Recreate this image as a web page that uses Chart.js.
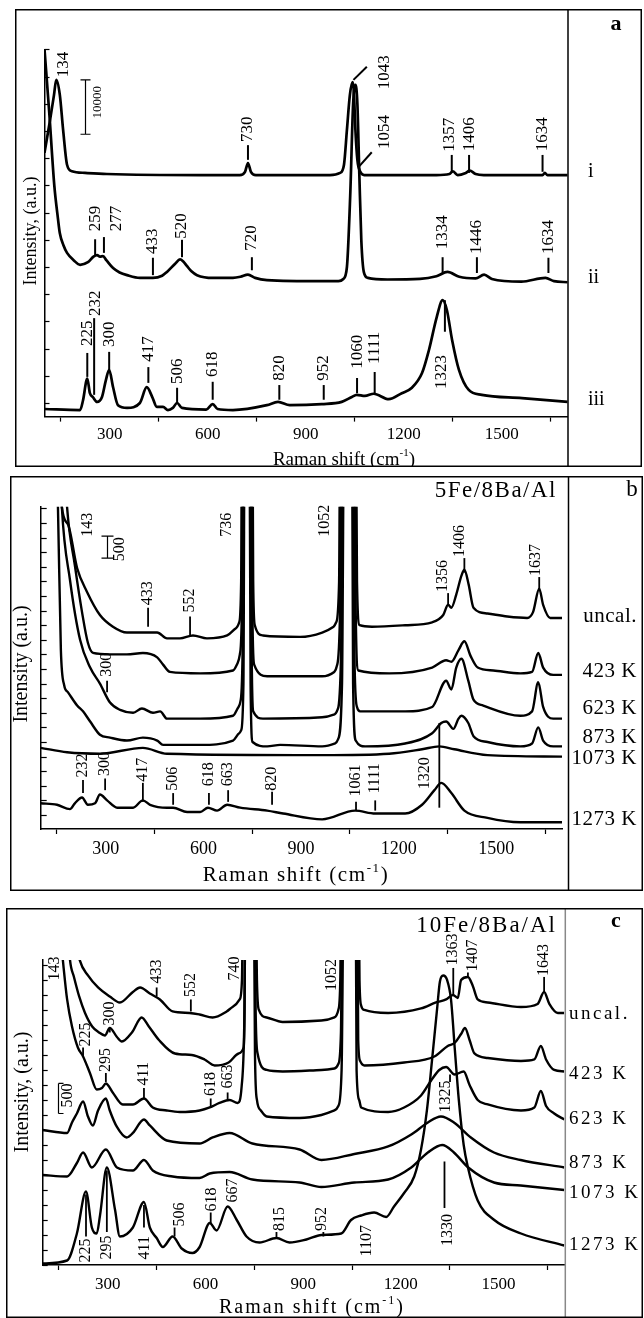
<!DOCTYPE html>
<html><head><meta charset="utf-8">
<script src="https://cdn.jsdelivr.net/npm/chart.js"></script>
<style>
html,body{margin:0;padding:0;background:#fff;}
body{width:644px;height:1318px;position:relative;overflow:hidden;}
.panel{position:absolute;}
canvas{display:block;}
</style></head><body>
<div class="panel" style="left:15px;top:9px;width:627px;height:458px"><canvas id="ca" width="627" height="458"></canvas></div>
<div class="panel" style="left:10px;top:476px;width:633px;height:415px"><canvas id="cb" width="633" height="415"></canvas></div>
<div class="panel" style="left:6px;top:908px;width:637px;height:410px"><canvas id="cc" width="637" height="410"></canvas></div>
<script>
// ---------- shared axis values ----------
const xMin = 100, xMax = 1702;
const xTickStep = 150, xLabelStep = 300;

// ---------- panel a : series [Raman shift, intensity (thousand counts)] ----------
const a_i = [[100,46.0],[117,52.0],[129,56.6],[136,59.4],[147,56.6],[157,50.2],[169,43.8],[184,42.6],[224,42.3],[291,42.1],[576,41.9],[698,41.9],[714,42.5],[723,44.1],[732,42.5],[747,41.9],[974,41.9],[1005,42.3],[1017,43.8],[1026,50.2],[1035,56.6],[1043,59.0],[1047,57.5],[1052,50.2],[1058,44.7],[1067,42.5],[1079,41.9],[1300,41.9],[1340,42.1],[1350,42.6],[1365,41.9],[1390,42.3],[1402,42.7],[1420,42.1],[1445,41.9],[1625,41.9],[1632,42.3],[1640,41.9],[1702,41.9]];
const a_ii = [[100,65.0],[115,53.0],[130,40.0],[141,34.0],[147,31.2],[158,29.0],[169,27.6],[190,26.2],[209,25.4],[233,25.9],[250,26.9],[261,27.2],[270,26.9],[279,27.0],[290,26.2],[310,24.8],[330,24.0],[353,23.5],[392,23.0],[432,23.0],[460,23.4],[475,24.1],[500,25.6],[515,26.4],[525,26.0],[536,25.2],[550,24.2],[567,23.5],[616,23.0],[677,23.0],[700,23.2],[723,23.6],[745,23.0],[781,22.6],[949,22.4],[1000,22.4],[1015,22.8],[1026,25.0],[1036,38.0],[1045,55.0],[1052,58.5],[1058,55.0],[1064,42.0],[1070,30.0],[1078,24.0],[1090,23.0],[1150,22.7],[1250,22.8],[1300,23.3],[1334,24.1],[1370,23.2],[1420,22.9],[1446,23.6],[1470,22.8],[1560,22.3],[1634,23.0],[1660,22.4],[1702,22.2]];
const a_iii = [[100,-1.1],[209,-1.3],[218,0.5],[231,4.5],[239,1.8],[248,1.1],[261,0.2],[276,1.1],[288,4.2],[298,6.1],[310,2.9],[325,-0.4],[353,-0.9],[392,0.0],[413,2.9],[430,1.1],[444,-0.7],[463,-0.7],[478,-1.3],[493,-0.9],[506,0.0],[521,-0.9],[595,-1.2],[615,-0.2],[630,-1.1],[677,-1.3],[781,-0.4],[815,0.2],[851,-0.4],[949,-0.2],[1010,0.2],[1041,1.1],[1056,1.5],[1081,1.3],[1108,1.7],[1154,0.7],[1194,1.8],[1225,2.8],[1256,5.5],[1277,9.7],[1301,15.8],[1319,18.9],[1332,17.1],[1348,11.6],[1369,6.1],[1399,2.4],[1439,1.5],[1562,0.9],[1702,0.2]];
const a_rowLabels = [['i',42.5],['ii',23.0],['iii',0.6]];
const a_peakMarks = [[723,44.7,723,47.4],[1046,59.4,1087,61.8],[1062,43.4,1102,46.1],[1347,42.3,1347,45.6],[1400,42.3,1400,45.6],[1625,42.5,1625,45.6],[255,27.2,255,30.1],[282,27.6,282,30.5],[432,23.5,432,26.7],[521,26.8,521,30.0],[735,24.4,735,26.8],[1319,23.9,1319,26.8],[1424,23.9,1424,26.8],[1643,23.9,1643,26.7],[231,4.8,231,9.2],[252,1.5,252,15.6],[298,6.1,298,9.4],[418,3.7,418,6.6],[506,0,506,2.8],[615,0.6,615,3.9],[819,0.6,819,3.3],[955,0.6,955,3.3],[1057,1.8,1057,4.6],[1111,1.8,1111,5.7],[1326,13.1,1326,18.9]];
const a_peakTexts = [[157,59.7,'134'],[723,47.8,'730'],[1142,57.5,'1043'],[1142,46.5,'1054'],[1341,46.0,'1357'],[1400,46.1,'1406'],[1625,46.1,'1634'],[255,31.4,'259'],[322,31.4,'277'],[432,27.2,'433'],[521,30.0,'520'],[735,27.8,'720'],[1319,28.1,'1334'],[1424,27.2,'1446'],[1643,27.2,'1634'],[231,10.3,'225'],[255,15.8,'232'],[298,10.1,'300'],[418,7.4,'417'],[506,3.3,'506'],[615,4.6,'618'],[819,3.9,'820'],[955,3.9,'952'],[1057,6.1,'1060'],[1111,7.0,'1111'],[1317,2.4,'1323']];

// ---------- panel b ----------
const b_uncal = [[100,40],[150,30],[165,21.1],[184,19.9],[212,16.9],[242,15.3],[282,13.7],[322,12.9],[365,12.5],[414,12.5],[458,12.5],[488,12.1],[528,12.1],[568,12.3],[611,12.1],[673,12.3],[700,12.8],[710,13.2],[716,16],[719,30],[750,30],[753,16],[758,13.0],[783,12.3],[897,12.2],[965,12.5],[1000,12.9],[1008,13.2],[1017,16],[1021,30],[1068,30],[1072,16],[1080,13.0],[1118,12.9],[1220,13.0],[1303,13.2],[1337,13.7],[1352,14.4],[1362,14.2],[1377,15.1],[1393,16.4],[1402,16.8],[1415,15.8],[1430,14.2],[1473,13.8],[1534,13.6],[1595,13.5],[1613,13.9],[1632,15.5],[1644,14.4],[1666,13.5],[1702,13.5]];
const b_423 = [[100,40],[160,30],[181,21.1],[205,17.1],[227,13.9],[245,11.8],[261,11.1],[313,11.0],[365,11.0],[414,11.1],[458,10.8],[476,10.3],[497,9.8],[590,9.7],[691,9.9],[705,10.4],[712,11],[719,15],[722,30],[747,30],[750,15],[756,10.3],[796,9.5],[965,9.5],[1002,9.8],[1010,10.2],[1020,14],[1025,30],[1064,30],[1068,14],[1076,9.9],[1171,9.7],[1303,10.1],[1346,10.6],[1362,10.5],[1384,11.3],[1402,11.9],[1421,10.9],[1443,10.1],[1491,9.9],[1574,9.7],[1610,9.8],[1629,11.1],[1644,10.1],[1675,9.6],[1702,9.6]];
const b_623 = [[100,40],[150,30],[165,21.1],[190,16.1],[221,12.0],[252,10.1],[282,9.0],[313,7.7],[344,7.2],[384,7.0],[411,7.3],[445,7.0],[467,7.1],[488,6.6],[590,6.6],[691,6.8],[708,7.4],[714,7.8],[721,12],[725,30],[744,30],[748,12],[753,7.1],[783,6.6],[965,6.7],[1003,6.9],[1012,7.2],[1023,11],[1029,30],[1060,30],[1064,11],[1072,7.4],[1082,7.1],[1220,7.1],[1303,7.4],[1346,9.2],[1362,8.6],[1377,10.1],[1393,10.7],[1414,9.2],[1430,7.9],[1460,7.5],[1574,6.8],[1610,7.1],[1629,9.1],[1644,7.4],[1675,6.6],[1702,6.6]];
const b_873 = [[100,40],[140,30],[153,21.1],[162,11.3],[172,8.9],[184,8.4],[212,7.5],[230,7.1],[252,6.4],[282,5.5],[313,5.3],[365,5.1],[414,5.3],[458,5.1],[476,4.8],[590,4.8],[691,5.1],[710,5.6],[716,5.8],[723,9],[727,30],[741,30],[745,9],[751,5.0],[796,4.7],[836,4.8],[965,4.7],[1005,4.9],[1014,5.2],[1026,9],[1033,30],[1056,30],[1060,9],[1068,5.1],[1097,4.7],[1220,4.9],[1303,5.6],[1331,6.3],[1346,6.4],[1368,5.9],[1384,6.6],[1393,6.8],[1414,6.3],[1430,5.4],[1473,5.0],[1574,4.7],[1610,4.9],[1629,6.0],[1644,5.1],[1675,4.7],[1702,4.7]];
const b_1073 = [[100,4.6],[181,4.3],[282,4.2],[414,4.6],[488,4.2],[965,4.1],[1171,4.2],[1272,4.5],[1325,4.7],[1371,4.5],[1473,4.1],[1702,4.0]];
const b_1273 = [[100,0.8],[150,0.7],[190,0.4],[205,0.8],[227,1.2],[245,0.7],[267,0.8],[282,1.4],[304,1.0],[335,0.5],[384,0.5],[414,1.0],[436,0.7],[488,0.5],[507,0.5],[550,0.2],[590,0.2],[614,0.5],[642,0.3],[673,0.7],[713,0.5],[796,0.3],[845,0.1],[965,-0.3],[1066,0.3],[1128,0.1],[1220,0.1],[1272,0.7],[1310,1.7],[1331,2.2],[1362,1.5],[1402,0.3],[1473,-0.2],[1574,-0.5],[1702,-0.5]];
const b_rowLabels = [['uncal.',13.6],['423 K',9.8],['623 K',7.3],['873 K',5.3],['1073 K',3.9],['1273 K',-0.3]];
const b_peakMarks = [[430,12.9,430,14.2],[559,12.3,559,13.6],[304,8.4,304,9.2],[1352,14.4,1352,15.2],[1402,16.6,1402,17.6],[1632,15.4,1632,16.3],[230,1.5,230,2.4],[298,1.7,298,2.5],[414,0.9,414,2.2],[507,0.7,507,1.5],[617,0.7,617,1.5],[676,0.9,676,1.7],[811,0.7,811,1.6],[1069,0.3,1069,0.9],[1128,0.3,1128,1.0],[1325,0.5,1325,6.3]];
const b_peakTexts = [[245,19.0,'143'],[673,19.0,'736'],[974,19.0,'1052'],[430,14.3,'433'],[559,13.8,'552'],[304,9.4,'300'],[1337,15.2,'1356'],[1387,17.6,'1406'],[1620,16.3,'1637'],[230,2.5,'232'],[298,2.6,'300'],[414,2.2,'417'],[507,1.6,'506'],[617,1.9,'618'],[676,1.9,'663'],[811,1.6,'820'],[1069,1.2,'1061'],[1128,1.4,'1111'],[1281,1.7,'1320']];

// ---------- panel c ----------
const c_uncal = [[100,30],[190,22],[214,19.3],[239,18.3],[270,17.5],[306,16.9],[337,16.5],[377,17.2],[399,17.5],[429,17.1],[460,16.7],[499,15.9],[551,15.8],[582,15.7],[622,15.5],[665,15.9],[683,16.2],[705,16.7],[712,18],[716,25],[754,25],[758,18],[764,16.0],[788,15.5],[837,15.2],[956,15.3],[996,15.5],[1008,16.0],[1014,18],[1017,25],[1070,25],[1073,18],[1078,16.3],[1088,16.0],[1161,15.8],[1262,16.1],[1308,16.5],[1339,16.7],[1360,17.0],[1375,16.8],[1385,18.0],[1406,18.2],[1421,17.6],[1436,16.7],[1467,16.5],[1569,16.2],[1620,16.4],[1640,17.2],[1656,16.4],[1682,15.8],[1702,15.8]];
const c_423 = [[100,30],[175,22],[184,19.3],[196,18.2],[212,16.9],[230,15.8],[252,14.9],[273,14.5],[291,14.3],[306,14.8],[328,14.2],[343,13.9],[374,14.5],[404,15.5],[426,14.9],[457,14.0],[506,13.1],[558,13.0],[597,12.7],[628,12.3],[671,12.5],[702,13.1],[717,13.5],[720,16],[722,25],[751,25],[754,16],[760,13.1],[788,12.0],[837,11.9],[956,12.0],[996,12.1],[1008,12.4],[1016,14.5],[1021,25],[1066,25],[1069,14],[1075,12.6],[1088,12.3],[1210,12.5],[1303,12.9],[1344,13.6],[1365,13.8],[1385,14.4],[1397,14.8],[1411,14.0],[1426,13.1],[1467,12.8],[1569,12.6],[1610,12.7],[1630,13.6],[1646,12.7],[1671,12.0],[1702,11.9]];
const c_623 = [[100,30],[150,22],[162,19.3],[175,16.7],[190,14.9],[208,13.5],[224,12.9],[245,11.8],[266,10.7],[282,10.8],[294,11.1],[315,10.5],[346,9.7],[377,9.7],[411,10.1],[438,9.5],[481,9.3],[521,9.2],[582,9.3],[613,9.5],[643,9.8],[674,10.0],[699,9.8],[711,10.9],[719,15],[724,25],[748,25],[752,13],[758,10.0],[770,9.3],[788,8.9],[889,8.8],[956,9.0],[996,9.3],[1008,9.6],[1018,12],[1025,25],[1061,25],[1064,12],[1072,10.0],[1078,9.5],[1161,9.2],[1210,9.5],[1262,10.3],[1293,11.3],[1318,12.0],[1339,12.2],[1365,11.7],[1393,11.9],[1411,11.0],[1436,10.0],[1467,9.7],[1569,9.3],[1610,9.5],[1630,10.6],[1646,9.6],[1671,9.1],[1702,8.7]];
const c_873 = [[100,8.0],[175,7.8],[190,8.5],[205,9.1],[224,9.9],[239,8.9],[254,8.3],[270,9.3],[294,10.1],[306,9.3],[328,8.2],[358,7.5],[377,7.8],[411,8.7],[429,8.3],[481,7.3],[582,7.1],[622,7.5],[674,7.8],[744,7.1],[889,6.7],[956,6.0],[1057,6.4],[1161,6.9],[1232,7.7],[1283,8.5],[1323,8.9],[1363,8.5],[1415,7.5],[1486,6.5],[1568,6.0],[1702,5.5]];
const c_1073 = [[100,5.0],[175,4.9],[205,5.8],[224,6.5],[251,5.5],[294,6.7],[328,5.5],[377,5.3],[411,6.0],[438,5.3],[499,4.9],[582,4.8],[613,5.1],[674,5.2],[744,4.7],[889,4.5],[956,4.2],[1057,4.5],[1161,4.7],[1232,5.5],[1283,6.5],[1327,7.0],[1363,6.5],[1407,5.5],[1486,4.5],[1568,4.3],[1702,4.0]];
const c_1273 = [[100,-0.9],[175,-0.7],[205,1.1],[233,3.9],[251,1.5],[266,1.1],[276,2.3],[297,5.5],[322,2.7],[337,0.9],[377,1.5],[411,3.2],[429,1.5],[450,0.8],[469,0.2],[499,0.9],[527,0.1],[560,-0.2],[582,0.2],[613,1.8],[634,1.3],[668,2.9],[696,2.0],[726,0.9],[766,0.5],[818,0.8],[858,0.5],[910,0.7],[956,1.0],[1017,1.1],[1047,2.0],[1078,2.3],[1118,2.5],[1155,2.2],[1179,2.9],[1210,3.8],[1241,4.9],[1262,6.7],[1280,9.3],[1296,12.7],[1311,16.0],[1320,17.9],[1330,18.3],[1342,18.0],[1354,16.7],[1366,13.3],[1378,10.0],[1393,7.0],[1405,5.6],[1436,3.3],[1487,2.0],[1569,1.1],[1702,0.3]];
const c_rowLabels = [['uncal.',15.7],['423 K',11.7],['623 K',8.7],['873 K',5.8],['1073 K',3.8],['1273 K',0.3]];
const c_peakMarks = [[450,16.9,450,17.5],[555,15.9,555,16.7],[306,14.5,306,14.8],[224,12.9,224,13.5],[294,11.2,294,11.8],[411,10.1,411,10.8],[616,9.5,616,10.1],[668,10.0,668,10.5],[1361,17.0,1361,18.8],[1406,18.2,1406,18.5],[1640,17.2,1640,18.2],[1351,11.2,1351,11.7],[233,0.9,233,3.7],[297,1.2,297,5.3],[411,1.5,411,3.0],[505,0.9,505,1.5],[616,1.8,616,2.5],[818,0.8,818,1.2],[962,0.9,962,1.2],[1334,2.8,1334,5.9]];
const c_peakTexts = [[138,17.9,'143'],[450,17.7,'433'],[555,16.8,'552'],[690,17.9,'740'],[306,14.9,'300'],[233,13.5,'225'],[294,11.8,'295'],[411,10.9,'411'],[616,10.2,'618'],[668,10.7,'663'],[987,17.2,'1052'],[1361,18.9,'1363'],[1422,18.5,'1407'],[1640,18.2,'1643'],[1339,9.1,'1325'],[233,-0.9,'225'],[297,-0.7,'295'],[414,-0.7,'411'],[521,1.5,'506'],[619,2.5,'618'],[683,3.1,'667'],[828,1.2,'815'],[957,1.2,'952'],[1094,-0.5,'1107'],[1345,0.2,'1330']];

// ---------- drawing ----------
const FAM = '"Liberation Serif", "Times New Roman", serif';
function F(size, bold){ return (bold ? 'bold ' : '') + size + 'px ' + FAM; }

function vtext(c, txt, x, y, align){
  c.save(); c.translate(x, y); c.rotate(-Math.PI/2);
  c.textAlign = align; c.textBaseline = 'middle'; c.fillText(txt, 0, 0); c.restore();
}
function xTitle(c, cx, base, size, ls){
  c.save();
  c.letterSpacing = ls + 'px';
  c.font = F(size); const p1 = 'Raman shift (cm'; const w1 = c.measureText(p1).width;
  c.font = F(Math.round(size*0.6)); const w2 = c.measureText('-1').width;
  c.font = F(size); const w3 = c.measureText(')').width;
  let x = cx - (w1 + w2 + w3)/2;
  c.textAlign = 'left'; c.textBaseline = 'alphabetic';
  c.font = F(size); c.fillText(p1, x, base); x += w1;
  c.font = F(Math.round(size*0.6)); c.fillText('-1', x, base - size*0.45); x += w2;
  c.font = F(size); c.fillText(')', x, base);
  c.restore();
}

function buildPanel(id, P){
  const deco = {
    id: 'deco_' + id,
    afterDraw(chart){
      const c = chart.ctx, xs = chart.scales.x, ys = chart.scales.y, A = chart.chartArea;
      const X = v => xs.getPixelForValue(v), Y = v => ys.getPixelForValue(v);
      const W = chart.width, H = chart.height;
      c.save();
      c.strokeStyle = '#000'; c.fillStyle = '#000'; c.lineCap = 'butt';
      // inward y tick marks from the library's tick list
      c.lineWidth = 1.2;
      ys.ticks.forEach(t => { const y = Math.round(Y(t.value)) + 0.5; c.beginPath(); c.moveTo(A.left, y); c.lineTo(A.left + P.yTickLen, y); c.stroke(); });
      // peak markers
      c.lineWidth = P.markW;
      P.marks.forEach(m => { c.beginPath(); c.moveTo(X(m[0]), Y(m[1])); c.lineTo(X(m[2]), Y(m[3])); c.stroke(); });
      // peak labels
      c.font = F(P.peakSize);
      P.texts.forEach(t => vtext(c, t[2], X(t[0]), Y(t[1]) - 1, 'left'));
      // scale bar
      const sb = P.scaleBar;
      c.lineWidth = 1.2;
      const sx = Math.round(X(sb.x)) + 0.5, sy0 = Y(sb.y0), sy1 = Y(sb.y1);
      c.beginPath(); c.moveTo(sx, sy0); c.lineTo(sx, sy1);
      c.moveTo(sx - sb.capL, sy0); c.lineTo(sx + sb.capR, sy0);
      c.moveTo(sx - sb.capL, sy1); c.lineTo(sx + sb.capR, sy1); c.stroke();
      c.font = F(sb.size); vtext(c, sb.text, X(sb.tx), Y(sb.ty), 'center');
      // row labels in right column
      c.font = F(P.rowSize); c.letterSpacing = P.rowLS + 'px';
      c.textAlign = P.rowAlign; c.textBaseline = 'middle';
      P.rows.forEach(r => c.fillText(r[0], P.rowX, Y(r[1])));
      c.letterSpacing = '0px';
      // panel letter and sample title
      c.font = F(P.letter.size, P.letter.bold); c.textAlign = 'center'; c.textBaseline = 'middle';
      c.fillText(P.letter.t, P.letter.x, P.letter.y);
      if (P.title){
        c.font = F(P.title.size); c.letterSpacing = P.title.ls + 'px';
        c.textAlign = 'right'; c.textBaseline = 'alphabetic';
        c.fillText(P.title.t, P.title.x, P.title.y);
        c.letterSpacing = '0px';
      }
      // axis titles
      xTitle(c, P.xt.x, P.xt.y, P.xt.size, P.xt.ls);
      c.font = F(P.yt.size); vtext(c, P.yt.t, P.yt.x, P.yt.y, 'center');
      // divider and frame
      c.lineWidth = 1.5; c.strokeStyle = P.divColor;
      c.beginPath(); c.moveTo(P.divX, 0); c.lineTo(P.divX, H); c.stroke();
      c.strokeStyle = '#000';
      c.strokeRect(0.75, 0.75, W - 1.5, H - 1.5);
      c.restore();
    }
  };
  return new Chart(document.getElementById(id).getContext('2d'), {
    type: 'line',
    data: { datasets: P.series.map(s => ({
      data: s.map(p => ({x: p[0], y: p[1]})),
      borderColor: '#000', borderWidth: P.lineW, pointRadius: 0, fill: false,
      cubicInterpolationMode: 'monotone', borderJoinStyle: 'round'
    })) },
    options: {
      responsive: false, animation: false, devicePixelRatio: 1, events: [],
      layout: { padding: { left: P.pad[0], right: P.pad[1], top: P.pad[2], bottom: P.pad[3] } },
      plugins: { legend: { display: false }, tooltip: { enabled: false } },
      scales: {
        x: {
          type: 'linear', min: xMin, max: xMax,
          afterFit: s => { s.height = 40; },
          border: { display: true, color: '#000', width: 1.5 },
          grid: { drawOnChartArea: false, drawTicks: true, tickLength: 5, tickWidth: 1.2,
                  tickColor: ctx => (ctx.tick && ctx.tick.value % xLabelStep === 0) ? 'rgba(0,0,0,0)' : '#000' },
          ticks: { stepSize: xTickStep, includeBounds: false, autoSkip: false, maxRotation: 0, minRotation: 0,
                   padding: P.xTickPad, color: '#000', font: { family: FAM, size: P.xTickSize },
                   callback: v => (v % xLabelStep === 0) ? String(v) : '' }
        },
        y: {
          type: 'linear', min: P.yMin, max: P.yMax,
          afterFit: s => { s.width = 0; },
          border: { display: true, color: '#000', width: 1.5 },
          grid: { display: true, drawOnChartArea: false, drawTicks: false },
          ticks: { display: false, stepSize: P.yStep, includeBounds: false }
        }
      }
    },
    plugins: [deco]
  });
}

buildPanel('ca', {
  series: [a_i, a_ii, a_iii], lineW: 2.7, markW: 2,
  pad: [29.5, 74.3, 40.4, 10.4], yMin: -2.5, yMax: 65, yStep: 5, yTickLen: 5,
  xTickPad: 3, xTickSize: 17,
  marks: a_peakMarks, texts: a_peakTexts, peakSize: 17,
  scaleBar: { x: 224, y0: 49.4, y1: 59.4, capL: 5, capR: 5, text: '10000', tx: 261, ty: 55.3, size: 13 },
  rows: a_rowLabels, rowX: 573, rowAlign: 'left', rowSize: 20, rowLS: 0,
  letter: { t: 'a', x: 601, y: 15, size: 22, bold: true },
  title: null,
  xt: { x: 329, y: 456, size: 19, ls: 0 },
  yt: { t: 'Intensity, (a.u.)', x: 16, y: 222, size: 18 },
  divX: 553, divColor: '#000'
});

buildPanel('cb', {
  series: [b_uncal, b_423, b_623, b_873, b_1073, b_1273], lineW: 2.4, markW: 1.8,
  pad: [30.7, 81, 30.7, 22], yMin: -0.96, yMax: 21.12, yStep: 1, yTickLen: 6,
  xTickPad: 4, xTickSize: 18,
  marks: b_peakMarks, texts: b_peakTexts, peakSize: 16,
  scaleBar: { x: 304, y0: 17.6, y1: 19.1, capL: 6, capR: 6, text: '500', tx: 344, ty: 18.2, size: 16 },
  rows: b_rowLabels, rowX: 627, rowAlign: 'right', rowSize: 21, rowLS: 0.5,
  letter: { t: 'b', x: 622, y: 14, size: 23, bold: false },
  title: { t: '5Fe/8Ba/Al', x: 547, y: 21, size: 23, ls: 1.5 },
  xt: { x: 286, y: 405, size: 21, ls: 1.6 },
  yt: { t: 'Intensity (a.u.)', x: 12, y: 188, size: 20 },
  divX: 558.5, divColor: '#000'
});

buildPanel('cc', {
  series: [c_uncal, c_423, c_623, c_873, c_1073, c_1273], lineW: 2.4, markW: 1.8,
  pad: [36.7, 78.7, 52, 13], yMin: -1, yMax: 19.33, yStep: 1, yTickLen: 5,
  xTickPad: 4, xTickSize: 17,
  marks: c_peakMarks, texts: c_peakTexts, peakSize: 16,
  scaleBar: { x: 147, y0: 9.1, y1: 11.1, capL: 0, capR: 5, text: '500', tx: 178, ty: 10.3, size: 16 },
  rows: c_rowLabels, rowX: 563, rowAlign: 'left', rowSize: 19, rowLS: 2.5,
  letter: { t: 'c', x: 610, y: 13, size: 22, bold: true },
  title: { t: '10Fe/8Ba/Al', x: 551, y: 24, size: 23, ls: 2 },
  xt: { x: 306, y: 405, size: 20, ls: 2 },
  yt: { t: 'Intensity, (a.u.)', x: 17, y: 184, size: 20 },
  divX: 559.3, divColor: '#888'
});
</script>
</body></html>
